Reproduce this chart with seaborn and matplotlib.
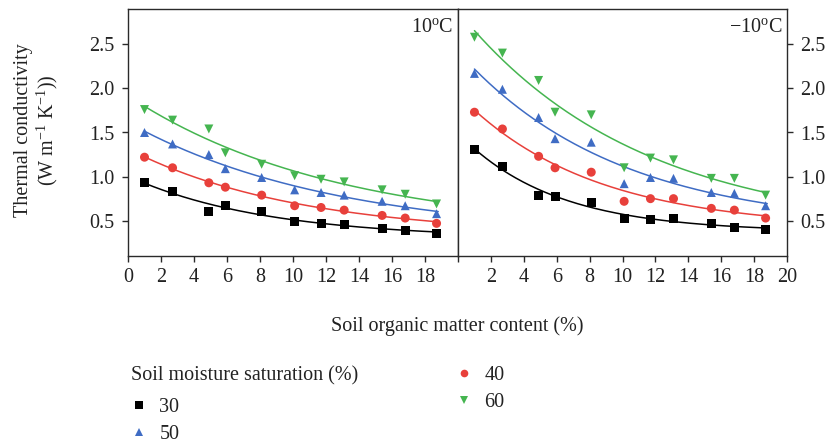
import numpy as np
import pandas as pd
import matplotlib
matplotlib.use("Agg")
import matplotlib.pyplot as plt
from matplotlib.lines import Line2D
import seaborn as sns

# ---------------- data ----------------
som = [1.0, 2.7, 4.9, 5.9, 8.1, 10.1, 11.7, 13.1, 15.4, 16.8, 18.7]
saturation = ["30", "40", "50", "60"]

k_pos10_30 = [0.93, 0.83, 0.61, 0.67, 0.61, 0.49, 0.47, 0.46, 0.41, 0.39, 0.36]
k_pos10_40 = [1.22, 1.10, 0.93, 0.88, 0.79, 0.67, 0.65, 0.62, 0.56, 0.53, 0.47]
k_pos10_50 = [1.50, 1.37, 1.25, 1.09, 0.99, 0.85, 0.82, 0.79, 0.72, 0.67, 0.58]
k_pos10_60 = [1.76, 1.64, 1.54, 1.27, 1.14, 1.01, 0.97, 0.94, 0.85, 0.80, 0.69]

k_neg10_30 = [1.31, 1.11, 0.79, 0.78, 0.71, 0.53, 0.51, 0.53, 0.47, 0.42, 0.40]
k_neg10_40 = [1.73, 1.54, 1.23, 1.10, 1.05, 0.72, 0.75, 0.75, 0.64, 0.62, 0.53]
k_neg10_50 = [2.17, 1.99, 1.67, 1.43, 1.39, 0.92, 0.99, 0.98, 0.82, 0.81, 0.67]
k_neg10_60 = [2.58, 2.40, 2.09, 1.73, 1.70, 1.10, 1.21, 1.19, 0.98, 0.98, 0.79]

panel_labels = ["10$^{\\mathrm{o}}$C", "\u221210$^{\\mathrm{o}}$C"]
x_ticks = [0, 2, 4, 6, 8, 10, 12, 14, 16, 18, 20]
y_ticks = [0.5, 1.0, 1.5, 2.0, 2.5]

colors = {"30": "#000000", "40": "#e8403b", "50": "#3f6cc4", "60": "#45b550"}
markers = {"30": "s", "40": "o", "50": "^", "60": "v"}

series = {
    "10": dict(zip(saturation, [k_pos10_30, k_pos10_40, k_pos10_50, k_pos10_60])),
    "-10": dict(zip(saturation, [k_neg10_30, k_neg10_40, k_neg10_50, k_neg10_60])),
}


def exp_fit(x, y):
    """Least-squares fit of y = a*exp(-b x) + c (grid over b)."""
    x = np.asarray(x, float)
    y = np.asarray(y, float)
    best = None
    for b in np.linspace(0.005, 1.0, 2000):
        A = np.column_stack([np.exp(-b * x), np.ones_like(x)])
        coef, *_ = np.linalg.lstsq(A, y, rcond=None)
        sse = np.sum((A @ coef - y) ** 2)
        if best is None or sse < best[0]:
            best = (sse, b, coef)
    _, b, (a, c) = best
    return lambda t: a * np.exp(-b * t) + c


# ---------------- style ----------------
sns.set_theme(style="ticks")
plt.rcParams["font.family"] = ["Liberation Serif", "DejaVu Serif"]
plt.rcParams["mathtext.fontset"] = "custom"
plt.rcParams["mathtext.rm"] = "Liberation Serif"
plt.rcParams["mathtext.it"] = "Liberation Serif:italic"
plt.rcParams["axes.edgecolor"] = "#2a2a2a"
plt.rcParams["axes.linewidth"] = 1.0
FS = 14.5
TXT = "#222222"

fig = plt.figure(figsize=(8.29, 4.40), dpi=100)
W, H = 829, 440
ax1 = fig.add_axes([128 / W, 1 - 256 / H, (458 - 128) / W, (256 - 9) / H])
ax2 = fig.add_axes([458 / W, 1 - 256 / H, (787 - 458) / W, (256 - 9) / H])

for ax, key, lab in [(ax1, "10", panel_labels[0]), (ax2, "-10", panel_labels[1])]:
    rows = []
    fit_rows = []
    for s in saturation:
        ys = series[key][s]
        for xv, yv in zip(som, ys):
            rows.append({"x": xv, "k": yv, "sat": s})
        f = exp_fit(som, ys)
        xx = np.linspace(min(som), max(som) + 0.1, 200)
        for xv in xx:
            fit_rows.append({"x": xv, "k": f(xv), "sat": s})
    df = pd.DataFrame(rows)
    dfit = pd.DataFrame(fit_rows)
    sns.lineplot(data=dfit, x="x", y="k", hue="sat", palette=colors,
                 hue_order=saturation, ax=ax, legend=False, linewidth=1.1,
                 sort=True, estimator=None)
    sns.scatterplot(data=df, x="x", y="k", hue="sat", style="sat",
                    palette=colors, markers=markers, hue_order=saturation,
                    style_order=saturation, s=42, linewidth=0, ax=ax,
                    legend=False, zorder=3)
    ax.set_xlim(0, 20)
    ax.set_ylim(0.1, 2.9)
    ax.set_xticks(x_ticks)
    ax.set_yticks(y_ticks)
    ax.set_xlabel("")
    ax.set_ylabel("")
    ax.text(0.985, 0.965, lab, transform=ax.transAxes, ha="right", va="top",
            fontsize=FS, color=TXT)
    ax.tick_params(axis="both", direction="out", length=4.5, width=1.0,
                   labelsize=FS, colors="#2a2a2a", labelcolor=TXT)
    ax.tick_params(axis="x", pad=4)

ax1.set_xticklabels([str(t) if t < 20 else "" for t in x_ticks])
ax2.set_xticklabels([str(t) if t > 0 else "" for t in x_ticks])
ax1.set_yticklabels([f"{t:.1f}" for t in y_ticks])
ax1.tick_params(axis="y", pad=5)
ax2.yaxis.tick_right()
ax2.set_yticklabels([f"{t:.1f}" for t in y_ticks])
ax2.tick_params(axis="y", pad=5)
# hide x tick at 0 of the right panel (shared border)
ax2.xaxis.get_major_ticks()[0].tick1line.set_visible(False)

fig.text(24 / W, 1 - 130 / H, "Thermal conductivity", rotation=90,
         ha="center", va="center", fontsize=FS, color=TXT)
fig.text(47 / W, 1 - 130 / H, "(W m$^{-1}$ K$^{-1}$))", rotation=90,
         ha="center", va="center", fontsize=FS, color=TXT)
fig.text(457 / W, 1 - 326 / H, "Soil organic matter content (%)",
         ha="center", va="center", fontsize=FS, color=TXT)

def handle(s):
    return Line2D([], [], linestyle="none", marker=markers[s],
                  markersize=5.5, color=colors[s], markeredgewidth=0)

leg1 = fig.legend([handle("30"), handle("50")], ["30", "50"],
                  title="Soil moisture saturation (%)", loc="upper left",
                  bbox_to_anchor=(121 / W, 1 - 356 / H), frameon=False,
                  fontsize=FS, title_fontsize=FS, alignment="left",
                  handlelength=0.8, handletextpad=0.6, borderpad=0,
                  labelspacing=0.38)
leg1._legend_box.sep = 0.62 * FS
for t in leg1.get_texts():
    t.set_color(TXT)
leg1.get_title().set_color(TXT)
leg2 = fig.legend([handle("40"), handle("60")], ["40", "60"],
                  loc="upper left", bbox_to_anchor=(446 / W, 1 - 356 / H),
                  frameon=False, fontsize=FS, handlelength=0.8,
                  handletextpad=0.6, borderpad=0, labelspacing=0.38)
for t in leg2.get_texts():
    t.set_color(TXT)

fig.savefig("out.png", dpi=100)
